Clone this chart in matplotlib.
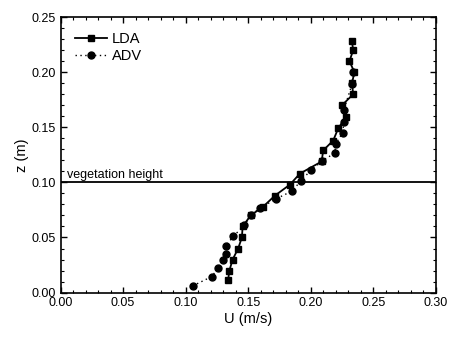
import matplotlib
matplotlib.use('Agg')
import matplotlib.pyplot as plt
from matplotlib.ticker import MultipleLocator

plt.rcParams['font.family'] = ['Liberation Sans', 'DejaVu Sans']

# LDA profile
lda_u = [0.134, 0.135, 0.1376, 0.142, 0.145, 0.1456, 0.152, 0.162, 0.1714, 0.1834,
         0.1914, 0.2088, 0.210, 0.218, 0.222, 0.228, 0.225, 0.234, 0.233, 0.235,
         0.231, 0.234, 0.233]
lda_z = [0.0115, 0.020, 0.030, 0.040, 0.050, 0.060, 0.070, 0.078, 0.088, 0.098,
         0.108, 0.119, 0.129, 0.138, 0.149, 0.159, 0.170, 0.180, 0.190, 0.200,
         0.210, 0.220, 0.228]

# ADV profile
adv_u = [0.1056, 0.1208, 0.126, 0.1296, 0.132, 0.132, 0.138, 0.147, 0.152, 0.1594,
         0.1722, 0.1848, 0.192, 0.200, 0.209, 0.2194, 0.220, 0.2256, 0.2266, 0.2266,
         0.233, 0.234]
adv_z = [0.006, 0.0145, 0.022, 0.030, 0.035, 0.042, 0.051, 0.061, 0.070, 0.0766,
         0.085, 0.092, 0.101, 0.111, 0.119, 0.127, 0.135, 0.145, 0.155, 0.166,
         0.189, 0.200]

veg_height = 0.10

fig = plt.figure(figsize=(4.52, 3.43), dpi=100)
ax = fig.add_axes([0.134, 0.147, 0.830, 0.803])

ax.plot(lda_u, lda_z, '-', marker='s', color='black', lw=1.3, ms=4.5, label='LDA')
ax.plot(adv_u, adv_z, linestyle=(0, (1, 2.5)), marker='o', color='black',
        lw=1.0, ms=5, label='ADV')
ax.axhline(veg_height, color='black', lw=1.3)
ax.text(0.005, veg_height + 0.004, 'vegetation height', fontsize=9)

ax.set_xlim(0, 0.30)
ax.set_ylim(0, 0.25)
ax.xaxis.set_major_locator(MultipleLocator(0.05))
ax.xaxis.set_minor_locator(MultipleLocator(0.01))
ax.yaxis.set_major_locator(MultipleLocator(0.05))
ax.yaxis.set_minor_locator(MultipleLocator(0.01))
ax.xaxis.set_major_formatter(plt.FormatStrFormatter('%.2f'))
ax.yaxis.set_major_formatter(plt.FormatStrFormatter('%.2f'))
ax.tick_params(which='both', direction='in', top=True, right=True, labelsize=9)
ax.tick_params(which='major', length=4, width=1)
ax.tick_params(which='minor', length=2, width=0.8)
for s in ax.spines.values():
    s.set_linewidth(1.2)

ax.set_xlabel('U (m/s)', fontsize=10.5, labelpad=2)
ax.set_ylabel('z (m)', fontsize=10.5, labelpad=2)
ax.legend(loc='upper left', frameon=False, fontsize=10.5, handlelength=2.2,
          borderaxespad=0.6, labelspacing=0.2, handletextpad=0.3)

fig.savefig('out.png', dpi=100)
